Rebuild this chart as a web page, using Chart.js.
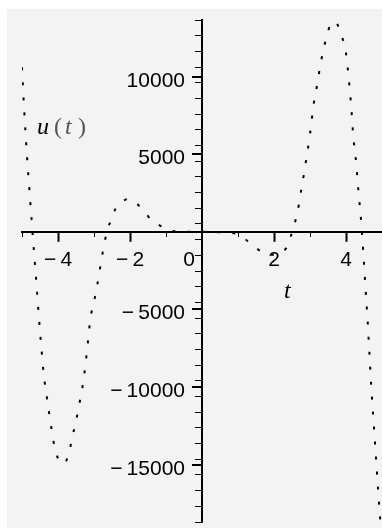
<!DOCTYPE html>
<html>
<head>
<meta charset="utf-8">
<script src="https://cdn.jsdelivr.net/npm/chart.js@4.4.1/dist/chart.umd.min.js"></script>
<style>
  html, body { margin: 0; padding: 0; background: #fff; }
  #wrap { position: relative; width: 382px; height: 528px; }
  #bg { position: absolute; left: 7px; top: 9px; right: 0; bottom: 0; background: #f3f3f3; }
  #plot { position: absolute; left: 0; top: 0; }
</style>
</head>
<body>
<div id="wrap">
  <div id="bg"></div>
  <canvas id="plot" width="382" height="528"></canvas>
</div>
<script>
// values
const tValues = [
  -5.0, -4.95, -4.9, -4.85, -4.8, -4.75, -4.7, -4.65, -4.6, -4.55, -4.5, -4.45, -4.4,
  -4.3, -4.2, -4.1, -4.0, -3.85, -3.7, -3.6, -3.5, -3.4, -3.3, -3.2, -3.1, -3.0,
  -2.9, -2.8, -2.7, -2.6, -2.5, -2.4, -2.25, -2.05, -1.85, -1.7, -1.55, -1.4, -1.2,
  -1.0, -0.8, -0.5, 0, 0.5, 1.0, 1.33, 1.67, 1.95, 2.2, 2.35, 2.45, 2.55, 2.65,
  2.75, 2.85, 3.0, 3.1, 3.2, 3.3, 3.4, 3.55, 3.7, 3.85, 4.0, 4.1, 4.15, 4.2, 4.28,
  4.35, 4.42, 4.48, 4.53, 4.6, 4.65, 4.7, 4.78, 4.84, 4.9, 4.95, 5.0
];
const uValues = [
  10600, 8300, 6300, 4500, 2900, 1300, -300, -1800, -3300, -4900, -6400, -7800, -9100,
  -10800, -12400, -13800, -14600, -14950, -14300, -13200, -12200, -11000, -9700, -7800, -5600, -4500,
  -3300, -1900, -600, 300, 900, 1500, 1900, 2100, 1900, 1550, 1150, 750, 450,
  200, 50, 0, 0, -30, -150, -720, -1300, -1480, -1350, -1000, -400, 350, 1250,
  2600, 4000, 6300, 8200, 9500, 10900, 12000, 13250, 13550, 12800, 11500, 9300, 7900, 6200, 4500,
  2500, 700, -1300, -3200, -5700, -7800, -9900, -12700, -14800, -16900, -18500, -20000
];
const xTickLabels = [-4, -2, 0, 2, 4];
const yTickLabels = [-15000, -10000, -5000, 5000, 10000];
const xRange = [-5, 5];
const yRange = [-18700, 13650];

const tickFont = { family: "Liberation Sans", size: 21 };

function signed(v) {
  return v < 0 ? "\u2212\u2009" + Math.abs(v) : String(v);
}

function noPadding(scale) {
  scale.paddingTop = 0;
  scale.paddingBottom = 0;
  scale.paddingLeft = 0;
  scale.paddingRight = 0;
}

// longer major ticks, y labels, the shifted "0" and the axis names
const axisExtras = {
  id: "axisExtras",
  afterDraw(chart) {
    const ctx = chart.ctx;
    const xs = chart.scales.x;
    const ys = chart.scales.y;
    const x0 = xs.getPixelForValue(0);
    const y0 = ys.getPixelForValue(0);
    ctx.save();
    ctx.strokeStyle = "#000";
    ctx.lineWidth = 2;
    ctx.beginPath();
    xTickLabels.forEach((v) => {
      if (v === 0) return;
      const px = Math.round(xs.getPixelForValue(v)) + 0.5;
      ctx.moveTo(px, y0);
      ctx.lineTo(px, y0 + 10);
    });
    yTickLabels.forEach((v) => {
      const py = Math.round(ys.getPixelForValue(v));
      ctx.moveTo(x0, py);
      ctx.lineTo(x0 - 10, py);
    });
    ctx.stroke();

    ctx.fillStyle = "#000";
    ctx.font = "21px 'Liberation Sans'";
    ctx.textAlign = "right";
    ctx.textBaseline = "alphabetic";
    yTickLabels.forEach((v) => {
      ctx.fillText(signed(v), x0 - 17, ys.getPixelForValue(v) + 10);
    });
    ctx.fillText("0", x0 - 7, y0 + 34);

    ctx.textAlign = "left";
    ctx.textBaseline = "middle";
    ctx.font = "italic 24px 'Liberation Serif'";
    ctx.fillText("t", 284, 292);
    ctx.letterSpacing = "2px";
    ctx.fillText("u", 37, 128);
    ctx.fillStyle = "#555";
    ctx.font = "24px 'Liberation Serif'";
    ctx.fillText("(", 54, 128);
    ctx.fillText(")", 78, 128);
    ctx.font = "italic 24px 'Liberation Serif'";
    ctx.fillText("t", 65, 128);
    ctx.restore();
  },
};

new Chart(document.getElementById("plot"), {
  type: "scatter",
  data: {
    datasets: [
      {
        label: "u(t)",
        data: tValues.map((t, i) => ({ x: t, y: uValues[i] })),
        showLine: true,
        borderColor: "#000",
        borderWidth: 2,
        borderDash: [3, 12],
        borderCapStyle: "butt",
        pointRadius: 0,
        cubicInterpolationMode: "monotone",
      },
    ],
  },
  options: {
    responsive: false,
    animation: false,
    devicePixelRatio: 1,
    layout: { padding: { top: 20, left: 22, right: 0, bottom: 6 } },
    plugins: { legend: { display: false }, tooltip: { enabled: false } },
    scales: {
      x: {
        type: "linear",
        position: { y: 0 },
        min: xRange[0],
        max: xRange[1],
        afterFit: noPadding,
        border: { display: true, color: "#000", width: 2 },
        grid: { drawOnChartArea: false, tickLength: 4, tickColor: "#000", tickWidth: 1 },
        ticks: {
          stepSize: 1,
          autoSkip: false,
          maxRotation: 0,
          padding: 12,
          color: "#000",
          font: tickFont,
          callback: (v) => (xTickLabels.includes(v) && v !== 0 ? signed(v) : ""),
        },
      },
      y: {
        type: "linear",
        position: { x: 0 },
        min: yRange[0],
        max: yRange[1],
        afterFit: noPadding,
        border: { display: true, color: "#000", width: 2 },
        grid: { drawOnChartArea: false, tickLength: 6, tickColor: "#000", tickWidth: 1 },
        ticks: {
          display: false,
          stepSize: 1000,
          includeBounds: false,
          autoSkip: false,
          maxTicksLimit: 100,
        },
      },
    },
  },
  plugins: [axisExtras],
});
</script>
</body>
</html>
